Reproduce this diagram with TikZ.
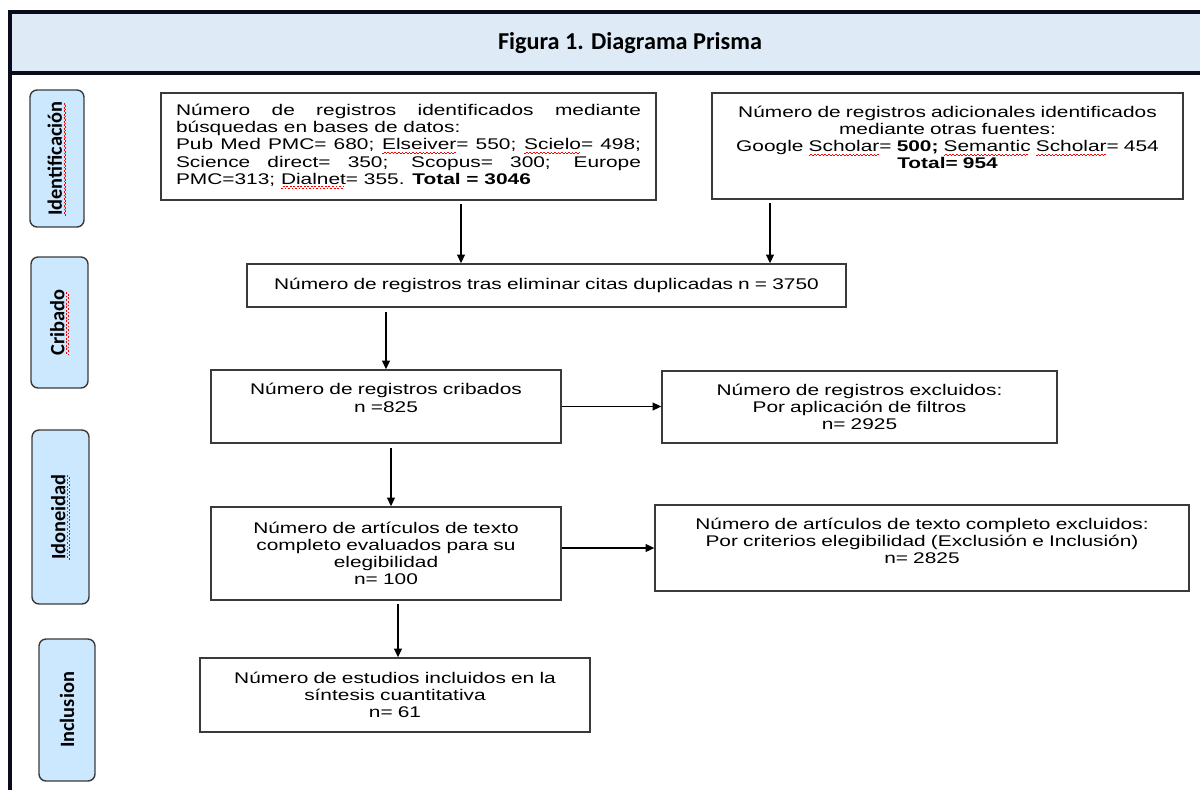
\documentclass[tikz,border=0pt]{standalone}
\usepackage{fontspec}
\setmainfont[FakeStretch=1.35]{Liberation Sans}
\newfontfamily\etiqfont{Carlito}
\usetikzlibrary{arrows.meta}
\hyphenpenalty=10000
\newcommand\spell[1]{\setbox0\hbox{#1}\rlap{\color{red}\lower2.6pt\hbox to \wd0{\leaders\hbox{\rule{1pt}{0.6pt}\raise0.9pt\hbox{\rule{1pt}{0.6pt}}}\hfill}}#1} % subrayado rojo
\definecolor{marco}{HTML}{0B0B1E}
\definecolor{fondotitulo}{HTML}{DEEAF6}
\definecolor{fondoetapa}{HTML}{CCE8FF}
\definecolor{borde}{HTML}{3A3A3A}
\tikzset{
    caja/.style={draw=borde, line width=0.8pt, align=center, inner xsep=0.3cm, inner ysep=0pt, font=\fontsize{8.8}{9.8}\selectfont}, % cajas del diagrama
    etapa/.style={draw=borde, fill=fondoetapa, line width=0.8pt, rounded corners=4pt, rotate=90, inner sep=0pt, font=\etiqfont\bfseries\fontsize{11.6}{13}\selectfont}, % etiquetas de fase
    flecha/.style={line width=0.75pt, -{Triangle[length=5pt, width=4.5pt]}} % conectores
}

\begin{document}
\begin{tikzpicture}[x=0.02cm, y=-0.02cm]
            \def\xmin{0} \def\xmax{1200} \def\ymin{0} \def\ymax{796}
            \useasboundingbox (\xmin, \ymin) rectangle (\xmax, \ymax);

            \fill[fondotitulo] (10, 12) rectangle (\xmax+20, 73);
            \draw[marco, line width=2.3pt] (\xmax+20, 12) -- (10, 12) -- (10, 790);
            \draw[marco, line width=1.8pt] (10, 73) -- (\xmax+20, 73);
            \node[font=\etiqfont\bfseries\fontsize{13.8}{15}\selectfont] (titulo) at (630, 43) {Figura 1. Diagrama Prisma};

            \foreach \nom/\cx/\cy/\lg/\an/\txt in {ident/57/158.5/2.74/1.08/\spell{Identificación}, crib/59.5/322.5/2.62/1.14/\spell{Cribado}, idon/60.5/517/3.48/1.14/\spell{Idoneidad}, incl/67/710/2.84/1.12/Inclusion}
                {\node[etapa, minimum width=\lg cm, minimum height=\an cm] (\nom) at (\cx, \cy) {\txt};}

            \node[caja, align=justify, text width=9.3cm, minimum height=2.14cm] (busq) at (408.5, 146.5) {Número de registros identificados mediante\linebreak búsquedas en bases de datos:\newline Pub Med PMC= 680; \spell{Elseiver}= 550; \spell{Scielo}= 498;\linebreak Science direct= 350; Scopus= 300; Europe\linebreak PMC=313; \spell{Dialnet}= 355. \textbf{Total = 3046}};
            \node[caja, text width=8.82cm, minimum height=2.12cm] (adic) at (947.5, 146) {Número de registros adicionales identificados\\ mediante otras fuentes:\\ Google \spell{Scholar}= \textbf{500;} \spell{Semantic} \spell{Scholar}= 454\\ \textbf{Total= 954}\\ \mbox{}};
            \node[caja, text width=11.38cm, minimum height=0.86cm] (dupl) at (546.5, 285.5) {Número de registros tras eliminar citas duplicadas n = 3750};
            \node[caja, text width=6.4cm, minimum height=1.46cm] (cribados) at (386, 406.5) {Número de registros cribados\\ n =825\\ \mbox{}};
            \node[caja, text width=7.3cm, minimum height=1.44cm] (excl) at (859.5, 407) {Número de registros excluidos:\\ Por aplicación de filtros\\ n= 2925};
            \node[caja, text width=6.4cm, minimum height=1.86cm] (eleg) at (386, 553.5) {Número de artículos de texto\\ completo evaluados para su\\ elegibilidad\\ n= 100};
            \node[caja, text width=10.08cm, minimum height=1.72cm] (exceleg) at (922, 548) {Número de artículos de texto completo excluidos:\\ Por criterios elegibilidad (Exclusión e Inclusión)\\ n= 2825\\[-1.8pt] \mbox{}};
            \node[caja, text width=7.2cm, minimum height=1.48cm] (estudios) at (395, 695) {Número de estudios incluidos en la\\ síntesis cuantitativa\\ n= 61};

            \coordinate (c1) at (461, 0);
            \coordinate (c2) at (770, 0);
            \coordinate (c3) at (391, 0);
            \coordinate (c4) at (398, 0);
            \draw[flecha, shorten <=2pt] (busq.south -| c1) -- (dupl.north -| c1);
            \draw[flecha, shorten <=2pt] (adic.south -| c2) -- (dupl.north -| c2);
            \draw[flecha, shorten <=2.5pt] (dupl.south -| cribados.north) -- (cribados.north);
            \draw[flecha] (cribados.east) -- (cribados.east -| excl.west);
            \draw[flecha, shorten <=2.5pt] (cribados.south -| c3) -- (eleg.north -| c3);
            \draw[flecha] (exceleg.west -| eleg.east) -- (exceleg.west);
            \draw[flecha, shorten <=2pt] (eleg.south -| c4) -- (estudios.north -| c4);
        \end{tikzpicture}
\end{document}
